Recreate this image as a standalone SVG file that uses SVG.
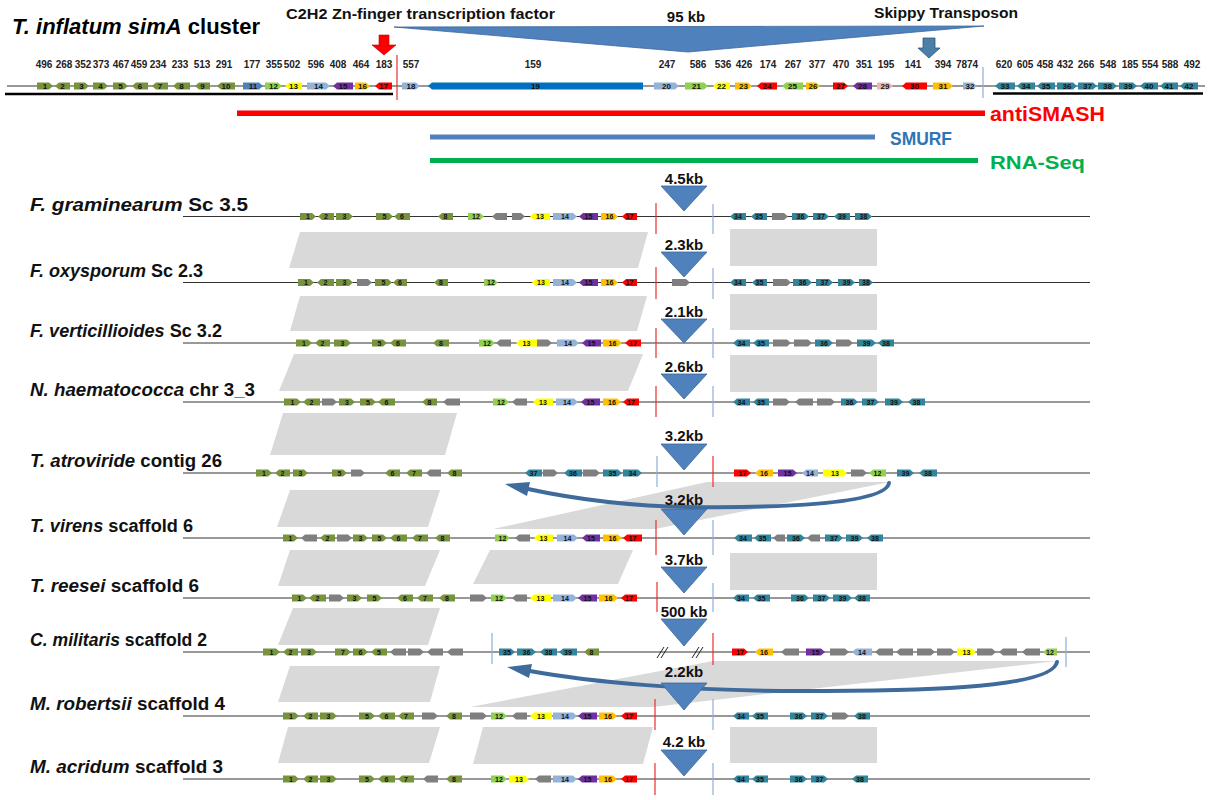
<svg xmlns="http://www.w3.org/2000/svg" width="1211" height="800" viewBox="0 0 1211 800">
<style>
.o{fill:#77933C}.lg{fill:#92D050}.y{fill:#FFFF00}.lb{fill:#95B3D7}.p{fill:#7030A0}.or{fill:#FFC000}.r{fill:#FF0000}.db{fill:#0070C0}.pk{fill:#E6B9B8}.t{fill:#31859C}.g{fill:#7F7F7F}.b{fill:#4F81BD}
.n{font-family:"Liberation Sans",Arial,sans-serif;font-weight:bold;font-size:7px;text-anchor:middle;fill:#111}
.tn{font-size:8px}
.h{font-family:"Liberation Sans",Arial,sans-serif;font-weight:bold;font-size:10px;text-anchor:middle;fill:#222}
.bb{stroke:#333;stroke-width:1}
.rl{stroke:#E8302A;stroke-width:1.2}
.bl{stroke:#8DB0D8;stroke-width:1.2}
.tri{fill:#4F81BD;stroke:#3C679A;stroke-width:0.8}
.kb{font-family:"Liberation Sans",Arial,sans-serif;font-weight:bold;font-size:15px;text-anchor:middle;fill:#111}
.lab{font-family:"Liberation Sans",Arial,sans-serif;font-weight:bold;font-size:18px;fill:#111}
.it{font-style:italic}
.sh{fill:#D9D9D9}
.ca{fill:none;stroke:#3F6B9C;stroke-width:4;stroke-linecap:round}
.ah{fill:#3F6B9C}
.big{font-family:"Liberation Sans",Arial,sans-serif;font-weight:bold}
</style>
<rect width="1211" height="800" fill="#fff"/>

<!-- header -->
<g id="header">
<text x="12" y="34" class="big" font-size="22" textLength="248" lengthAdjust="spacingAndGlyphs" fill="#000"><tspan class="it">T. inflatum simA</tspan> cluster</text>
<text x="286" y="19" class="big" font-size="15" textLength="269" lengthAdjust="spacingAndGlyphs" fill="#111">C2H2 Zn-finger transcription factor</text>
<text x="874" y="18" class="big" font-size="15" textLength="144" lengthAdjust="spacingAndGlyphs" fill="#111">Skippy Transposon</text>
<polygon points="394,27 984,26 688,52" fill="#4F81BD" stroke="#3C679A" stroke-width="0.8"/>
<text x="686" y="22" class="big" font-size="15" text-anchor="middle" fill="#111">95 kb</text>
<polygon points="379,35 389,35 389,45 396,45 384,55 372,45 379,45" fill="#FF0000" stroke="#C00000" stroke-width="0.6"/>
<polygon points="923,38 935,38 935,48 940,48 929,58 918,48 923,48" fill="#4A7FA8" stroke="#2F5577" stroke-width="0.8"/>
</g>

<g id="simA-cluster">
<line x1="7" y1="86" x2="1205" y2="86" class="bb"/>
<line x1="5" y1="94" x2="393" y2="94" stroke="#000" stroke-width="2.5"/>
<line x1="993" y1="93.5" x2="1203" y2="93.5" stroke="#000" stroke-width="2.5"/>
<line x1="397" y1="55" x2="397" y2="100" class="rl"/>
<line x1="983" y1="67" x2="983" y2="98" class="bl"/>
<g class="h">
<text x="44" y="68">496</text><text x="64" y="68">268</text><text x="83" y="68">352</text><text x="101" y="68">373</text><text x="121" y="68">467</text><text x="139" y="68">459</text><text x="158" y="68">234</text><text x="180" y="68">233</text><text x="202" y="68">513</text><text x="224" y="68">291</text><text x="252" y="68">177</text><text x="274" y="68">355</text><text x="292" y="68">502</text><text x="316" y="68">596</text><text x="338" y="68">408</text><text x="361" y="68">464</text><text x="384" y="68">183</text><text x="411" y="68">557</text><text x="533" y="68">159</text><text x="667" y="68">247</text><text x="698" y="68">586</text><text x="723" y="68">536</text><text x="744" y="68">426</text><text x="768" y="68">174</text><text x="793" y="68">267</text><text x="817" y="68">377</text><text x="841" y="68">470</text><text x="864" y="68">351</text><text x="886" y="68">195</text><text x="913" y="68">141</text><text x="943" y="68">394</text><text x="967" y="68">7874</text><text x="1004" y="68">620</text><text x="1025" y="68">605</text><text x="1045" y="68">458</text><text x="1065" y="68">432</text><text x="1086" y="68">266</text><text x="1108" y="68">548</text><text x="1130" y="68">185</text><text x="1150" y="68">554</text><text x="1170" y="68">588</text><text x="1192" y="68">492</text>
</g>
<g transform="translate(0,86)">
<path class="o" d="M37 -3.5H49l4 3.5-4 3.5H37zM70 -3.5H59l-4 3.5 4 3.5H70zM74 -3.5H85l4 3.5-4 3.5H74zM93 -3.5H104l4 3.5-4 3.5H93zM113 -3.5H124l4 3.5-4 3.5H113zM148 -3.5H136l-4 3.5 4 3.5H148zM168 -3.5H156l-4 3.5 4 3.5H168zM190 -3.5H177l-4 3.5 4 3.5H190zM210 -3.5H199l-4 3.5 4 3.5H210zM235 -3.5H221l-4 3.5 4 3.5H235z"/>
<path class="b" d="M243 -3.5H259l4 3.5-4 3.5H243z"/>
<path class="lg" d="M265 -3.5H278l4 3.5-4 3.5H265zM685 -3.5H704l4 3.5-4 3.5H685zM803 -3.5H786l-4 3.5 4 3.5H803z"/>
<path class="y" d="M302 -3.5H289l-4 3.5 4 3.5H302zM730 -3.5H717l-4 3.5 4 3.5H730z"/>
<path class="lb" d="M307 -3.5H326l4 3.5-4 3.5H307zM402 -3.5H416l4 3.5-4 3.5H402zM654 -3.5H675l4 3.5-4 3.5H654zM963 -3.5H973l4 3.5-4 3.5H963z"/>
<path class="p" d="M353 -3.5H337l-4 3.5 4 3.5H353zM872 -3.5H857l-4 3.5 4 3.5H872z"/>
<path class="or" d="M355 -3.5H366l4 3.5-4 3.5H355zM735 -3.5H748l4 3.5-4 3.5H735zM806 -3.5H816l4 3.5-4 3.5H806zM933 -3.5H949l4 3.5-4 3.5H933z"/>
<path class="r" d="M392 -3.5H379l-4 3.5 4 3.5H392zM777 -3.5H761l-4 3.5 4 3.5H777zM833 -3.5H844l4 3.5-4 3.5H833zM927 -3.5H906l-4 3.5 4 3.5H927z"/>
<path class="db" d="M643 -3.5H432l-4 3.5 4 3.5H643z"/>
<path class="pk" d="M877 -3.5H889l4 3.5-4 3.5H877z"/>
<path class="t" d="M1015 -3.5H999l-4 3.5 4 3.5H1015zM1035 -3.5H1021l-4 3.5 4 3.5H1035zM1055 -3.5H1041l-4 3.5 4 3.5H1055zM1057 -3.5H1073l4 3.5-4 3.5H1057zM1078 -3.5H1093l4 3.5-4 3.5H1078zM1098 -3.5H1113l4 3.5-4 3.5H1098zM1119 -3.5H1133l4 3.5-4 3.5H1119zM1158 -3.5H1144l-4 3.5 4 3.5H1158zM1178 -3.5H1164l-4 3.5 4 3.5H1178zM1198 -3.5H1184l-4 3.5 4 3.5H1198z"/>
<g class="n tn">
<text x="45" y="3">1</text><text x="62.5" y="3">2</text><text x="81.5" y="3">3</text><text x="100.5" y="3">4</text><text x="120.5" y="3">5</text><text x="140" y="3">6</text><text x="160" y="3">7</text><text x="181.5" y="3">8</text><text x="202.5" y="3">9</text><text x="226" y="3">10</text><text x="253" y="3">11</text><text x="273.5" y="3">12</text><text x="293.5" y="3">13</text><text x="318.5" y="3">14</text><text x="343" y="3">15</text><text x="362.5" y="3">16</text><text x="383.5" y="3">17</text><text x="411" y="3">18</text><text x="535.5" y="3">19</text><text x="666.5" y="3">20</text><text x="696.5" y="3">21</text><text x="721.5" y="3">22</text><text x="743.5" y="3">23</text><text x="767" y="3">24</text><text x="792.5" y="3">25</text><text x="813" y="3">26</text><text x="840.5" y="3">27</text><text x="862.5" y="3">28</text><text x="885" y="3">29</text><text x="914.5" y="3">30</text><text x="943" y="3">31</text><text x="970" y="3">32</text><text x="1005" y="3">33</text><text x="1026" y="3">34</text><text x="1046" y="3">35</text><text x="1067" y="3">36</text><text x="1087.5" y="3">37</text><text x="1107.5" y="3">38</text><text x="1128" y="3">39</text><text x="1149" y="3">40</text><text x="1169" y="3">41</text><text x="1189" y="3">42</text>
</g>
</g>
</g>

<g id="evidence-bars">
<rect x="237" y="110.5" width="748" height="5.5" fill="#FF0000"/>
<text x="990" y="121" class="big" font-size="20" textLength="115" lengthAdjust="spacingAndGlyphs" fill="#FF0000">antiSMASH</text>
<rect x="430" y="134.5" width="445" height="5" fill="#4F81BD"/>
<text x="890" y="145" class="big" font-size="19" textLength="62" lengthAdjust="spacingAndGlyphs" fill="#2E75B6">SMURF</text>
<rect x="430" y="158" width="548" height="5" fill="#00B050"/>
<text x="990" y="169" class="big" font-size="19" textLength="95" lengthAdjust="spacingAndGlyphs" fill="#00B050">RNA-Seq</text>
</g>

<!-- connectors: synteny blocks and inversion arrows -->
<g id="connectors">
<polygon class="sh" points="300,232 648,232 638,268 289,268"/>
<rect class="sh" x="730" y="229" width="147" height="37"/>
<polygon class="sh" points="300,296 647,296 637,331 290,331"/>
<rect class="sh" x="730" y="294" width="147" height="36"/>
<polygon class="sh" points="294,354 643,354 628,391 279,391"/>
<rect class="sh" x="730" y="355" width="147" height="37"/>
<polygon class="sh" points="283,413 457,413 445,455 270,455"/>
<polygon class="sh" points="290,490 440,490 428,527 277,527"/>
<polygon class="sh" points="493,529 707,482 890,482 655,529"/>
<polygon class="sh" points="290,550 440,550 425,586 278,586"/>
<polygon class="sh" points="490,550 633,550 618,584 473,584"/>
<rect class="sh" x="730" y="553" width="147" height="37"/>
<polygon class="sh" points="293,608 440,608 428,645 278,645"/>
<polygon class="sh" points="290,666 440,666 430,702 278,702"/>
<polygon class="sh" points="470,707 713,661 1057,661 653,707"/>
<polygon class="sh" points="288,727 440,727 429,763 278,763"/>
<polygon class="sh" points="483,727 653,727 643,764 473,764"/>
<rect class="sh" x="730" y="727" width="147" height="36"/>
<path class="ca" d="M889 483C885 505 770 508 690 507C620 506 565 497 528 489"/>
<polygon class="ah" points="505,484 530,482 527,496"/>
<path class="ca" d="M1057 662C1052 690 900 691 800 691C690 691 590 682 530 671"/>
<polygon class="ah" points="507,667 532,664 529,678"/>
</g>

<!-- Row 1 -->
<g id="row-f-graminearum">
<text x="30" y="210.5" class="lab" textLength="218" lengthAdjust="spacingAndGlyphs"><tspan class="it">F. graminearum</tspan> Sc 3.5</text>
<line x1="183" y1="216.5" x2="1090" y2="216.5" class="bb"/>
<g transform="translate(0,216.5)">
<path class="o" d="M300 -3.5H312l4 3.5-4 3.5H300zM334 -3.5H322l-4 3.5 4 3.5H334zM336 -3.5H349l4 3.5-4 3.5H336zM376 -3.5H389l4 3.5-4 3.5H376zM410 -3.5H398l-4 3.5 4 3.5H410zM453 -3.5H442l-4 3.5 4 3.5H453z"/>
<path class="lg" d="M468 -3.5H480l4 3.5-4 3.5H468z"/>
<path class="g" d="M507 -3.5H496l-4 3.5 4 3.5H507zM512 -3.5H521l4 3.5-4 3.5H512zM772 -3.5H784l4 3.5-4 3.5H772z"/>
<path class="y" d="M550 -3.5H534l-4 3.5 4 3.5H550z"/>
<path class="lb" d="M553 -3.5H573l4 3.5-4 3.5H553z"/>
<path class="p" d="M598 -3.5H583l-4 3.5 4 3.5H598z"/>
<path class="or" d="M601 -3.5H614l4 3.5-4 3.5H601z"/>
<path class="r" d="M637 -3.5H626l-4 3.5 4 3.5H637z"/>
<path class="t" d="M746 -3.5H734l-4 3.5 4 3.5H746zM767 -3.5H755l-4 3.5 4 3.5H767zM792 -3.5H805l4 3.5-4 3.5H792zM813 -3.5H825l4 3.5-4 3.5H813zM850 -3.5H838l-4 3.5 4 3.5H850zM855 -3.5H868l4 3.5-4 3.5H855z"/>
<g class="n"><text x="308" y="2.5">1</text><text x="326" y="2.5">2</text><text x="344.5" y="2.5">3</text><text x="384.5" y="2.5">5</text><text x="402" y="2.5">6</text><text x="445.5" y="2.5">8</text><text x="476" y="2.5">12</text><text x="540" y="2.5">13</text><text x="565" y="2.5">14</text><text x="588.5" y="2.5">15</text><text x="609.5" y="2.5">16</text><text x="629.5" y="2.5">17</text><text x="738" y="2.5">34</text><text x="759" y="2.5">35</text><text x="800.5" y="2.5">36</text><text x="821" y="2.5">37</text><text x="842" y="2.5">39</text><text x="863.5" y="2.5">38</text></g>
</g>
<line x1="656" y1="203" x2="656" y2="234" class="rl"/>
<line x1="713" y1="204" x2="713" y2="234" class="bl"/>
<polygon class="tri" points="661,186 707,186 684,211"/>
<text x="684" y="184" class="kb">4.5kb</text>
</g>

<!-- Row 2 -->
<g id="row-f-oxysporum">
<text x="30" y="276.5" class="lab" textLength="173" lengthAdjust="spacingAndGlyphs"><tspan class="it">F. oxysporum</tspan> Sc 2.3</text>
<line x1="183" y1="282.5" x2="1090" y2="282.5" class="bb"/>
<g transform="translate(0,282.5)">
<path class="o" d="M298 -3.5H310l4 3.5-4 3.5H298zM334 -3.5H321l-4 3.5 4 3.5H334zM336 -3.5H349l4 3.5-4 3.5H336zM375 -3.5H388l4 3.5-4 3.5H375zM407 -3.5H397l-4 3.5 4 3.5H407zM448 -3.5H438l-4 3.5 4 3.5H448z"/>
<path class="g" d="M357 -3.5H368l4 3.5-4 3.5H357zM672 -3.5H686l4 3.5-4 3.5H672zM773 -3.5H787l4 3.5-4 3.5H773z"/>
<path class="lg" d="M484 -3.5H494l4 3.5-4 3.5H484z"/>
<path class="y" d="M550 -3.5H536l-4 3.5 4 3.5H550z"/>
<path class="lb" d="M553 -3.5H573l4 3.5-4 3.5H553z"/>
<path class="p" d="M598 -3.5H583l-4 3.5 4 3.5H598z"/>
<path class="or" d="M601 -3.5H614l4 3.5-4 3.5H601z"/>
<path class="r" d="M637 -3.5H626l-4 3.5 4 3.5H637z"/>
<path class="t" d="M746 -3.5H734l-4 3.5 4 3.5H746zM767 -3.5H756l-4 3.5 4 3.5H767zM793 -3.5H808l4 3.5-4 3.5H793zM816 -3.5H829l4 3.5-4 3.5H816zM838 -3.5H851l4 3.5-4 3.5H838zM859 -3.5H869l4 3.5-4 3.5H859z"/>
<g class="n"><text x="306" y="2.5">1</text><text x="325.5" y="2.5">2</text><text x="344.5" y="2.5">3</text><text x="383.5" y="2.5">5</text><text x="400" y="2.5">6</text><text x="441" y="2.5">8</text><text x="491" y="2.5">12</text><text x="541" y="2.5">13</text><text x="565" y="2.5">14</text><text x="588.5" y="2.5">15</text><text x="609.5" y="2.5">16</text><text x="629.5" y="2.5">17</text><text x="738" y="2.5">34</text><text x="759.5" y="2.5">35</text><text x="802.5" y="2.5">36</text><text x="824.5" y="2.5">37</text><text x="846.5" y="2.5">39</text><text x="866" y="2.5">38</text></g>
</g>
<line x1="656" y1="267" x2="656" y2="299" class="rl"/>
<line x1="713" y1="268" x2="713" y2="299" class="bl"/>
<polygon class="tri" points="661,252 707,252 684,277"/>
<text x="684" y="250" class="kb">2.3kb</text>
</g>

<!-- Row 3 -->
<g id="row-f-verticillioides">
<text x="30" y="337" class="lab" textLength="192" lengthAdjust="spacingAndGlyphs"><tspan class="it">F. verticillioides</tspan> Sc 3.2</text>
<line x1="183" y1="343" x2="1090" y2="343" class="bb"/>
<g transform="translate(0,343)">
<path class="o" d="M296 -3.5H308l4 3.5-4 3.5H296zM330 -3.5H319l-4 3.5 4 3.5H330zM334 -3.5H347l4 3.5-4 3.5H334zM372 -3.5H383l4 3.5-4 3.5H372zM406 -3.5H394l-4 3.5 4 3.5H406zM449 -3.5H437l-4 3.5 4 3.5H449z"/>
<path class="lg" d="M479 -3.5H491l4 3.5-4 3.5H479z"/>
<path class="g" d="M511 -3.5H500l-4 3.5 4 3.5H511zM537 -3.5H548l4 3.5-4 3.5H537zM773 -3.5H787l4 3.5-4 3.5H773zM794 -3.5H808l4 3.5-4 3.5H794zM836 -3.5H849l4 3.5-4 3.5H836z"/>
<path class="y" d="M537 -3.5H520l-4 3.5 4 3.5H537z"/>
<path class="lb" d="M557 -3.5H575l4 3.5-4 3.5H557z"/>
<path class="p" d="M601 -3.5H586l-4 3.5 4 3.5H601z"/>
<path class="or" d="M603 -3.5H618l4 3.5-4 3.5H603z"/>
<path class="r" d="M641 -3.5H629l-4 3.5 4 3.5H641z"/>
<path class="t" d="M750 -3.5H737l-4 3.5 4 3.5H750zM769 -3.5H757l-4 3.5 4 3.5H769zM815 -3.5H829l4 3.5-4 3.5H815zM857 -3.5H872l4 3.5-4 3.5H857zM894 -3.5H882l-4 3.5 4 3.5H894z"/>
<g class="n"><text x="304" y="2.5">1</text><text x="322.5" y="2.5">2</text><text x="342.5" y="2.5">3</text><text x="379.5" y="2.5">5</text><text x="398" y="2.5">6</text><text x="441" y="2.5">8</text><text x="487" y="2.5">12</text><text x="526.5" y="2.5">13</text><text x="568" y="2.5">14</text><text x="591.5" y="2.5">15</text><text x="612.5" y="2.5">16</text><text x="633" y="2.5">17</text><text x="741.5" y="2.5">34</text><text x="761" y="2.5">35</text><text x="824" y="2.5">36</text><text x="866.5" y="2.5">39</text><text x="886" y="2.5">38</text></g>
</g>
<line x1="656" y1="328" x2="656" y2="358" class="rl"/>
<line x1="713" y1="328" x2="713" y2="358" class="bl"/>
<polygon class="tri" points="661,319 707,319 684,343"/>
<text x="684" y="317" class="kb">2.1kb</text>
</g>

<!-- Row 4 -->
<g id="row-n-haematococca">
<text x="30" y="396" class="lab" textLength="225" lengthAdjust="spacingAndGlyphs"><tspan class="it">N. haematococca</tspan> chr 3_3</text>
<line x1="183" y1="402" x2="1090" y2="402" class="bb"/>
<g transform="translate(0,402)">
<path class="o" d="M284 -3.5H297l4 3.5-4 3.5H284zM320 -3.5H307l-4 3.5 4 3.5H320zM339 -3.5H351l4 3.5-4 3.5H339zM360 -3.5H372l4 3.5-4 3.5H360zM395 -3.5H382l-4 3.5 4 3.5H395zM437 -3.5H426l-4 3.5 4 3.5H437z"/>
<path class="g" d="M322 -3.5H333l4 3.5-4 3.5H322zM460 -3.5H447l-4 3.5 4 3.5H460zM527 -3.5H516l-4 3.5 4 3.5H527zM773 -3.5H786l4 3.5-4 3.5H773zM813 -3.5H799l-4 3.5 4 3.5H813zM817 -3.5H831l4 3.5-4 3.5H817z"/>
<path class="lg" d="M493 -3.5H505l4 3.5-4 3.5H493z"/>
<path class="y" d="M553 -3.5H537l-4 3.5 4 3.5H553z"/>
<path class="lb" d="M556 -3.5H574l4 3.5-4 3.5H556z"/>
<path class="p" d="M600 -3.5H585l-4 3.5 4 3.5H600z"/>
<path class="or" d="M603 -3.5H617l4 3.5-4 3.5H603z"/>
<path class="r" d="M639 -3.5H627l-4 3.5 4 3.5H639z"/>
<path class="t" d="M750 -3.5H737l-4 3.5 4 3.5H750zM769 -3.5H757l-4 3.5 4 3.5H769zM841 -3.5H854l4 3.5-4 3.5H841zM862 -3.5H875l4 3.5-4 3.5H862zM885 -3.5H899l4 3.5-4 3.5H885zM925 -3.5H912l-4 3.5 4 3.5H925z"/>
<g class="n"><text x="292.5" y="2.5">1</text><text x="311.5" y="2.5">2</text><text x="347" y="2.5">3</text><text x="368" y="2.5">5</text><text x="386.5" y="2.5">6</text><text x="429.5" y="2.5">8</text><text x="501" y="2.5">12</text><text x="543" y="2.5">13</text><text x="567" y="2.5">14</text><text x="590.5" y="2.5">15</text><text x="612" y="2.5">16</text><text x="631" y="2.5">17</text><text x="741.5" y="2.5">34</text><text x="761" y="2.5">35</text><text x="849.5" y="2.5">36</text><text x="870.5" y="2.5">37</text><text x="894" y="2.5">39</text><text x="916.5" y="2.5">38</text></g>
</g>
<line x1="656" y1="386" x2="656" y2="417" class="rl"/>
<line x1="713" y1="386" x2="713" y2="417" class="bl"/>
<polygon class="tri" points="661,374 707,374 684,399"/>
<text x="684" y="372" class="kb">2.6kb</text>
</g>

<!-- Row 5 -->
<g id="row-t-atroviride">
<text x="30" y="467" class="lab" textLength="192" lengthAdjust="spacingAndGlyphs"><tspan class="it">T. atroviride</tspan> contig 26</text>
<line x1="183" y1="473" x2="1090" y2="473" class="bb"/>
<g transform="translate(0,473)">
<path class="o" d="M256 -3.5H268l4 3.5-4 3.5H256zM290 -3.5H279l-4 3.5 4 3.5H290zM293 -3.5H304l4 3.5-4 3.5H293zM332 -3.5H343l4 3.5-4 3.5H332zM400 -3.5H389l-4 3.5 4 3.5H400zM422 -3.5H410l-4 3.5 4 3.5H422zM462 -3.5H451l-4 3.5 4 3.5H462z"/>
<path class="g" d="M351 -3.5H361l4 3.5-4 3.5H351zM441 -3.5H430l-4 3.5 4 3.5H441zM543 -3.5H554l4 3.5-4 3.5H543zM583 -3.5H596l4 3.5-4 3.5H583zM851 -3.5H863l4 3.5-4 3.5H851z"/>
<path class="t" d="M542 -3.5H529l-4 3.5 4 3.5H542zM582 -3.5H568l-4 3.5 4 3.5H582zM603 -3.5H618l4 3.5-4 3.5H603zM623 -3.5H638l4 3.5-4 3.5H623zM897 -3.5H910l4 3.5-4 3.5H897zM937 -3.5H923l-4 3.5 4 3.5H937z"/>
<path class="r" d="M734 -3.5H747l4 3.5-4 3.5H734z"/>
<path class="or" d="M773 -3.5H759l-4 3.5 4 3.5H773z"/>
<path class="p" d="M778 -3.5H793l4 3.5-4 3.5H778z"/>
<path class="lb" d="M818 -3.5H806l-4 3.5 4 3.5H818z"/>
<path class="y" d="M823 -3.5H843l4 3.5-4 3.5H823z"/>
<path class="lg" d="M886 -3.5H873l-4 3.5 4 3.5H886z"/>
<g class="n"><text x="264" y="2.5">1</text><text x="282.5" y="2.5">2</text><text x="300.5" y="2.5">3</text><text x="339.5" y="2.5">5</text><text x="392.5" y="2.5">6</text><text x="414" y="2.5">7</text><text x="454.5" y="2.5">8</text><text x="533.5" y="2.5">37</text><text x="573" y="2.5">36</text><text x="612.5" y="2.5">35</text><text x="632.5" y="2.5">34</text><text x="742.5" y="2.5">17</text><text x="764" y="2.5">16</text><text x="787.5" y="2.5">15</text><text x="810" y="2.5">14</text><text x="835" y="2.5">13</text><text x="877.5" y="2.5">12</text><text x="905.5" y="2.5">39</text><text x="928" y="2.5">38</text></g>
</g>
<line x1="657" y1="456" x2="657" y2="487" class="bl"/>
<line x1="713" y1="456" x2="713" y2="487" class="rl"/>
<polygon class="tri" points="661,444 707,444 684,470"/>
<text x="684" y="441" class="kb">3.2kb</text>
</g>

<!-- Row 6 -->
<g id="row-t-virens">
<text x="30" y="532" class="lab" textLength="163" lengthAdjust="spacingAndGlyphs"><tspan class="it">T. virens</tspan> scaffold 6</text>
<line x1="183" y1="538" x2="1090" y2="538" class="bb"/>
<g transform="translate(0,538)">
<path class="o" d="M283 -3.5H294l4 3.5-4 3.5H283zM335 -3.5H324l-4 3.5 4 3.5H335zM353 -3.5H364l4 3.5-4 3.5H353zM372 -3.5H383l4 3.5-4 3.5H372zM407 -3.5H394l-4 3.5 4 3.5H407zM428 -3.5H416l-4 3.5 4 3.5H428zM450 -3.5H439l-4 3.5 4 3.5H450z"/>
<path class="g" d="M317 -3.5H305l-4 3.5 4 3.5H317zM337 -3.5H348l4 3.5-4 3.5H337zM530 -3.5H519l-4 3.5 4 3.5H530zM785 -3.5H777l-4 3.5 4 3.5H785zM820 -3.5H811l-4 3.5 4 3.5H820z"/>
<path class="lg" d="M495 -3.5H506l4 3.5-4 3.5H495z"/>
<path class="y" d="M553 -3.5H538l-4 3.5 4 3.5H553z"/>
<path class="lb" d="M557 -3.5H574l4 3.5-4 3.5H557z"/>
<path class="p" d="M600 -3.5H586l-4 3.5 4 3.5H600z"/>
<path class="or" d="M603 -3.5H618l4 3.5-4 3.5H603z"/>
<path class="r" d="M642 -3.5H627l-4 3.5 4 3.5H642z"/>
<path class="t" d="M752 -3.5H738l-4 3.5 4 3.5H752zM771 -3.5H758l-4 3.5 4 3.5H771zM787 -3.5H801l4 3.5-4 3.5H787zM825 -3.5H839l4 3.5-4 3.5H825zM846 -3.5H859l4 3.5-4 3.5H846zM883 -3.5H871l-4 3.5 4 3.5H883z"/>
<g class="n"><text x="290.5" y="2.5">1</text><text x="327.5" y="2.5">2</text><text x="360.5" y="2.5">3</text><text x="379.5" y="2.5">5</text><text x="398.5" y="2.5">6</text><text x="420" y="2.5">7</text><text x="442.5" y="2.5">8</text><text x="502.5" y="2.5">12</text><text x="543.5" y="2.5">13</text><text x="567.5" y="2.5">14</text><text x="591" y="2.5">15</text><text x="612.5" y="2.5">16</text><text x="632.5" y="2.5">17</text><text x="743" y="2.5">34</text><text x="762.5" y="2.5">35</text><text x="796" y="2.5">36</text><text x="834" y="2.5">37</text><text x="854.5" y="2.5">39</text><text x="875" y="2.5">38</text></g>
</g>
<line x1="656" y1="520" x2="656" y2="555" class="rl"/>
<line x1="713" y1="520" x2="713" y2="555" class="bl"/>
<polygon class="tri" points="661,509 707,509 684,535"/>
<text x="684" y="505" class="kb">3.2kb</text>
</g>

<!-- Row 7 -->
<g id="row-t-reesei">
<text x="30" y="592" class="lab" textLength="169" lengthAdjust="spacingAndGlyphs"><tspan class="it">T. reesei</tspan>  scaffold 6</text>
<line x1="183" y1="598" x2="1090" y2="598" class="bb"/>
<g transform="translate(0,598)">
<path class="o" d="M292 -3.5H303l4 3.5-4 3.5H292zM326 -3.5H313l-4 3.5 4 3.5H326zM347 -3.5H358l4 3.5-4 3.5H347zM367 -3.5H378l4 3.5-4 3.5H367zM413 -3.5H401l-4 3.5 4 3.5H413zM433 -3.5H421l-4 3.5 4 3.5H433zM455 -3.5H443l-4 3.5 4 3.5H455z"/>
<path class="g" d="M329 -3.5H340l4 3.5-4 3.5H329zM470 -3.5H483l4 3.5-4 3.5H470zM527 -3.5H516l-4 3.5 4 3.5H527z"/>
<path class="lg" d="M491 -3.5H503l4 3.5-4 3.5H491z"/>
<path class="y" d="M551 -3.5H534l-4 3.5 4 3.5H551z"/>
<path class="lb" d="M553 -3.5H573l4 3.5-4 3.5H553z"/>
<path class="p" d="M597 -3.5H582l-4 3.5 4 3.5H597z"/>
<path class="or" d="M599 -3.5H614l4 3.5-4 3.5H599z"/>
<path class="r" d="M637 -3.5H625l-4 3.5 4 3.5H637z"/>
<path class="t" d="M749 -3.5H737l-4 3.5 4 3.5H749zM770 -3.5H757l-4 3.5 4 3.5H770zM791 -3.5H805l4 3.5-4 3.5H791zM813 -3.5H826l4 3.5-4 3.5H813zM833 -3.5H848l4 3.5-4 3.5H833zM870 -3.5H858l-4 3.5 4 3.5H870z"/>
<g class="n"><text x="299.5" y="2.5">1</text><text x="317.5" y="2.5">2</text><text x="354.5" y="2.5">3</text><text x="374.5" y="2.5">5</text><text x="405" y="2.5">6</text><text x="425" y="2.5">7</text><text x="447" y="2.5">8</text><text x="499" y="2.5">12</text><text x="540.5" y="2.5">13</text><text x="565" y="2.5">14</text><text x="587.5" y="2.5">15</text><text x="608.5" y="2.5">16</text><text x="629" y="2.5">17</text><text x="741" y="2.5">34</text><text x="761.5" y="2.5">35</text><text x="800" y="2.5">36</text><text x="821.5" y="2.5">37</text><text x="842.5" y="2.5">39</text><text x="862" y="2.5">38</text></g>
</g>
<line x1="657" y1="582" x2="657" y2="612" class="rl"/>
<line x1="713" y1="583" x2="713" y2="612" class="bl"/>
<polygon class="tri" points="661,567 707,567 684,593"/>
<text x="684" y="565" class="kb">3.7kb</text>
</g>

<!-- Row 8 -->
<g id="row-c-militaris">
<text x="30" y="646" class="lab" textLength="177" lengthAdjust="spacingAndGlyphs"><tspan class="it">C. militaris</tspan> scaffold 2</text>
<line x1="183" y1="652" x2="1090" y2="652" class="bb"/>
<g transform="translate(0,652)">
<path class="o" d="M263 -3.5H276l4 3.5-4 3.5H263zM298 -3.5H287l-4 3.5 4 3.5H298zM301 -3.5H313l4 3.5-4 3.5H301zM335 -3.5H347l4 3.5-4 3.5H335zM353 -3.5H364l4 3.5-4 3.5H353zM387 -3.5H375l-4 3.5 4 3.5H387zM599 -3.5H588l-4 3.5 4 3.5H599z"/>
<path class="g" d="M406 -3.5H394l-4 3.5 4 3.5H406zM408 -3.5H420l4 3.5-4 3.5H408zM443 -3.5H431l-4 3.5 4 3.5H443zM463 -3.5H451l-4 3.5 4 3.5H463zM799 -3.5H785l-4 3.5 4 3.5H799zM830 -3.5H845l4 3.5-4 3.5H830zM893 -3.5H879l-4 3.5 4 3.5H893zM913 -3.5H900l-4 3.5 4 3.5H913zM917 -3.5H931l4 3.5-4 3.5H917zM937 -3.5H951l4 3.5-4 3.5H937zM977 -3.5H992l4 3.5-4 3.5H977zM1017 -3.5H1003l-4 3.5 4 3.5H1017zM1040 -3.5H1026l-4 3.5 4 3.5H1040z"/>
<path class="t" d="M499 -3.5H511l4 3.5-4 3.5H499zM517 -3.5H532l4 3.5-4 3.5H517zM557 -3.5H544l-4 3.5 4 3.5H557zM577 -3.5H563l-4 3.5 4 3.5H577z"/>
<path class="r" d="M732 -3.5H744l4 3.5-4 3.5H732z"/>
<path class="or" d="M773 -3.5H759l-4 3.5 4 3.5H773z"/>
<path class="p" d="M806 -3.5H821l4 3.5-4 3.5H806z"/>
<path class="lb" d="M872 -3.5H856l-4 3.5 4 3.5H872z"/>
<path class="y" d="M957 -3.5H972l4 3.5-4 3.5H957z"/>
<path class="lg" d="M1057 -3.5H1047l-4 3.5 4 3.5H1057z"/>
<g class="n"><text x="271.5" y="2.5">1</text><text x="290.5" y="2.5">2</text><text x="309" y="2.5">3</text><text x="343" y="2.5">7</text><text x="360.5" y="2.5">6</text><text x="379" y="2.5">5</text><text x="507" y="2.5">35</text><text x="526.5" y="2.5">36</text><text x="548.5" y="2.5">38</text><text x="568" y="2.5">39</text><text x="591.5" y="2.5">8</text><text x="740" y="2.5">17</text><text x="764" y="2.5">16</text><text x="815.5" y="2.5">15</text><text x="862" y="2.5">14</text><text x="966.5" y="2.5">13</text><text x="1050" y="2.5">12</text></g>
</g>
<line x1="492" y1="633" x2="492" y2="664" class="bl"/>
<line x1="713" y1="633" x2="713" y2="665" class="rl"/>
<line x1="1066" y1="637" x2="1066" y2="667" class="bl"/>
<g stroke="#222" stroke-width="1">
<line x1="657" y1="658" x2="664" y2="647"/><line x1="661" y1="658" x2="668" y2="647"/>
<line x1="692" y1="658" x2="699" y2="647"/><line x1="696" y1="658" x2="703" y2="647"/>
</g>
<polygon class="tri" points="661,619 707,619 684,646"/>
<text x="684" y="617" class="kb">500 kb</text>
</g>

<!-- Row 9 -->
<g id="row-m-robertsii">
<text x="30" y="710" class="lab" textLength="195" lengthAdjust="spacingAndGlyphs"><tspan class="it">M. robertsii</tspan> scaffold 4</text>
<line x1="183" y1="716" x2="1090" y2="716" class="bb"/>
<g transform="translate(0,716)">
<path class="o" d="M283 -3.5H295l4 3.5-4 3.5H283zM318 -3.5H307l-4 3.5 4 3.5H318zM320 -3.5H333l4 3.5-4 3.5H320zM359 -3.5H371l4 3.5-4 3.5H359zM395 -3.5H382l-4 3.5 4 3.5H395zM414 -3.5H402l-4 3.5 4 3.5H414zM462 -3.5H450l-4 3.5 4 3.5H462z"/>
<path class="g" d="M422 -3.5H434l4 3.5-4 3.5H422zM470 -3.5H483l4 3.5-4 3.5H470zM527 -3.5H516l-4 3.5 4 3.5H527zM832 -3.5H845l4 3.5-4 3.5H832z"/>
<path class="lg" d="M491 -3.5H503l4 3.5-4 3.5H491z"/>
<path class="y" d="M552 -3.5H534l-4 3.5 4 3.5H552z"/>
<path class="lb" d="M553 -3.5H573l4 3.5-4 3.5H553z"/>
<path class="p" d="M597 -3.5H582l-4 3.5 4 3.5H597z"/>
<path class="or" d="M599 -3.5H613l4 3.5-4 3.5H599z"/>
<path class="r" d="M637 -3.5H625l-4 3.5 4 3.5H637z"/>
<path class="t" d="M749 -3.5H737l-4 3.5 4 3.5H749zM768 -3.5H756l-4 3.5 4 3.5H768zM790 -3.5H803l4 3.5-4 3.5H790zM811 -3.5H824l4 3.5-4 3.5H811zM870 -3.5H858l-4 3.5 4 3.5H870z"/>
<g class="n"><text x="291" y="2.5">1</text><text x="310.5" y="2.5">2</text><text x="328.5" y="2.5">3</text><text x="367" y="2.5">5</text><text x="386.5" y="2.5">6</text><text x="406" y="2.5">7</text><text x="454" y="2.5">8</text><text x="499" y="2.5">12</text><text x="541" y="2.5">13</text><text x="565" y="2.5">14</text><text x="587.5" y="2.5">15</text><text x="608" y="2.5">16</text><text x="629" y="2.5">17</text><text x="741" y="2.5">34</text><text x="760" y="2.5">35</text><text x="798.5" y="2.5">36</text><text x="819.5" y="2.5">37</text><text x="862" y="2.5">38</text></g>
</g>
<line x1="655" y1="699" x2="655" y2="730" class="rl"/>
<line x1="713" y1="699" x2="713" y2="730" class="bl"/>
<polygon class="tri" points="661,683 707,683 684,710"/>
<text x="684" y="677" class="kb">2.2kb</text>
</g>

<!-- Row 10 -->
<g id="row-m-acridum">
<text x="30" y="773" class="lab" textLength="193" lengthAdjust="spacingAndGlyphs"><tspan class="it">M. acridum</tspan> scaffold 3</text>
<line x1="183" y1="779" x2="1090" y2="779" class="bb"/>
<g transform="translate(0,779)">
<path class="o" d="M283 -3.5H295l4 3.5-4 3.5H283zM318 -3.5H307l-4 3.5 4 3.5H318zM320 -3.5H333l4 3.5-4 3.5H320zM359 -3.5H371l4 3.5-4 3.5H359zM395 -3.5H382l-4 3.5 4 3.5H395zM414 -3.5H402l-4 3.5 4 3.5H414zM462 -3.5H450l-4 3.5 4 3.5H462z"/>
<path class="g" d="M438 -3.5H427l-4 3.5 4 3.5H438zM551 -3.5H539l-4 3.5 4 3.5H551z"/>
<path class="lg" d="M491 -3.5H503l4 3.5-4 3.5H491z"/>
<path class="y" d="M509 -3.5H525l4 3.5-4 3.5H509z"/>
<path class="lb" d="M553 -3.5H573l4 3.5-4 3.5H553z"/>
<path class="p" d="M597 -3.5H582l-4 3.5 4 3.5H597z"/>
<path class="or" d="M599 -3.5H613l4 3.5-4 3.5H599z"/>
<path class="r" d="M637 -3.5H625l-4 3.5 4 3.5H637z"/>
<path class="t" d="M749 -3.5H737l-4 3.5 4 3.5H749zM768 -3.5H756l-4 3.5 4 3.5H768zM790 -3.5H803l4 3.5-4 3.5H790zM811 -3.5H824l4 3.5-4 3.5H811zM868 -3.5H856l-4 3.5 4 3.5H868z"/>
<g class="n"><text x="291" y="2.5">1</text><text x="310.5" y="2.5">2</text><text x="328.5" y="2.5">3</text><text x="367" y="2.5">5</text><text x="386.5" y="2.5">6</text><text x="406" y="2.5">7</text><text x="454" y="2.5">8</text><text x="499" y="2.5">12</text><text x="519" y="2.5">13</text><text x="565" y="2.5">14</text><text x="587.5" y="2.5">15</text><text x="608" y="2.5">16</text><text x="629" y="2.5">17</text><text x="741" y="2.5">34</text><text x="760" y="2.5">35</text><text x="798.5" y="2.5">36</text><text x="819.5" y="2.5">37</text><text x="860" y="2.5">38</text></g>
</g>
<line x1="655" y1="763" x2="655" y2="795" class="rl"/>
<line x1="713" y1="763" x2="713" y2="795" class="bl"/>
<polygon class="tri" points="661,750 707,750 684,776"/>
<text x="684" y="747" class="kb">4.2 kb</text>
</g>
</svg>
